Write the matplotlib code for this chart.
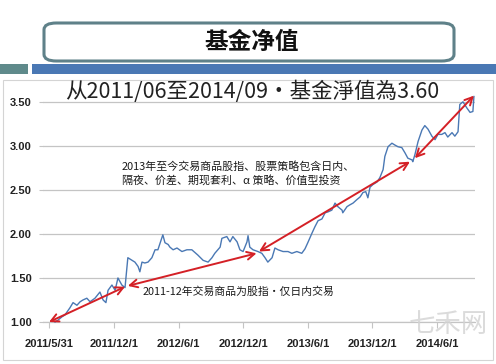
import matplotlib
matplotlib.use("Agg")
import matplotlib.pyplot as plt
from matplotlib.patches import FancyBboxPatch, Rectangle
import pandas as pd

plt.rcParams['font.family'] = ['Noto Sans CJK SC', 'DejaVu Sans']

# ---------------- data ----------------
dates = [
    "2011-06-17", "2011-06-25", "2011-07-07", "2011-07-15", "2011-07-29", "2011-08-07", "2011-08-18",
    "2011-08-27", "2011-09-04", "2011-09-15", "2011-09-24", "2011-10-08", "2011-10-22",
    "2011-10-31", "2011-11-08", "2011-11-14", "2011-11-25", "2011-12-04", "2011-12-12",
    "2011-12-23", "2012-01-01", "2012-01-09", "2012-01-21", "2012-01-29", "2012-02-07",
    "2012-02-12", "2012-02-18", "2012-02-26", "2012-03-06", "2012-03-17", "2012-03-26",
    "2012-04-03", "2012-04-17", "2012-04-23", "2012-05-02", "2012-05-07", "2012-05-16",
    "2012-05-27", "2012-06-10", "2012-06-24", "2012-07-08", "2012-07-25", "2012-08-09",
    "2012-08-23", "2012-09-03", "2012-09-11", "2012-09-26", "2012-10-01", "2012-10-15",
    "2012-10-24", "2012-11-01", "2012-11-13", "2012-11-21", "2012-11-30", "2012-12-11",
    "2012-12-14", "2012-12-19", "2012-12-28", "2013-01-11", "2013-01-22", "2013-01-31",
    "2013-02-08", "2013-02-20", "2013-02-28", "2013-03-09", "2013-03-23", "2013-04-06",
    "2013-04-17", "2013-05-01", "2013-05-15", "2013-05-24", "2013-06-01", "2013-06-13",
    "2013-06-21", "2013-06-30", "2013-07-11", "2013-07-20", "2013-07-28", "2013-08-08",
    "2013-08-17", "2013-08-25", "2013-09-06", "2013-09-08", "2013-09-20", "2013-09-28",
    "2013-10-07", "2013-10-18", "2013-10-27", "2013-11-04", "2013-11-12", "2013-11-18",
    "2013-11-24", "2013-12-02", "2013-12-14", "2013-12-22", "2013-12-31", "2014-01-05",
    "2014-01-14", "2014-01-25", "2014-02-02", "2014-02-11", "2014-02-22", "2014-03-03",
    "2014-03-11", "2014-03-23", "2014-03-25", "2014-03-31", "2014-04-09", "2014-04-20",
    "2014-04-28", "2014-05-07", "2014-05-18", "2014-05-27", "2014-06-04", "2014-06-15",
    "2014-06-24", "2014-07-02", "2014-07-14", "2014-07-22", "2014-07-31", "2014-08-05",
    "2014-08-14", "2014-08-25", "2014-09-03", "2014-09-11", "2014-09-14",
]
nav = [
    1.00, 1.02, 1.06, 1.08, 1.16, 1.22, 1.19,
    1.23, 1.25, 1.27, 1.23, 1.27, 1.34,
    1.25, 1.22, 1.36, 1.42, 1.36, 1.50,
    1.42, 1.39, 1.73, 1.70, 1.68, 1.63,
    1.57, 1.68, 1.67, 1.68, 1.73, 1.82,
    1.82, 1.99, 1.90, 1.88, 1.85, 1.82,
    1.84, 1.80, 1.82, 1.82, 1.76, 1.70,
    1.68, 1.73, 1.78, 1.85, 1.95, 1.97,
    1.91, 1.97, 1.91, 1.82, 1.80, 1.91,
    1.98, 1.85, 1.82, 1.80, 1.78, 1.73,
    1.68, 1.73, 1.84, 1.82, 1.80, 1.80,
    1.78, 1.80, 1.78, 1.83, 1.90, 2.01,
    2.08, 2.15, 2.17, 2.24, 2.25, 2.27,
    2.35, 2.31, 2.27, 2.24, 2.31, 2.33,
    2.35, 2.39, 2.42, 2.47, 2.48, 2.41,
    2.53, 2.56, 2.59, 2.64, 2.73, 2.88,
    2.99, 3.03, 3.01, 2.99, 2.98, 2.92,
    2.86, 2.84, 2.82, 2.90, 3.05, 3.18,
    3.23, 3.19, 3.11, 3.07, 3.13, 3.13,
    3.15, 3.10, 3.15, 3.11, 3.16, 3.47,
    3.50, 3.43, 3.38, 3.39, 3.56,
]

y_ticks = [1.00, 1.50, 2.00, 2.50, 3.00, 3.50]
x_tick_dates = ["2011-05-31", "2011-12-01", "2012-06-01", "2012-12-01",
                "2013-06-01", "2013-12-01", "2014-06-01"]
x_tick_labels = ["2011/5/31", "2011/12/1", "2012/6/1", "2012/12/1",
                 "2013/6/1", "2013/12/1", "2014/6/1"]

# double-headed trend arrows: (start date, start value, end date, end value)
arrow_start_dates = ["2011-05-31", "2012-01-09", "2013-01-14", "2014-03-31"]
arrow_start_vals = [1.00, 1.41, 1.80, 2.86]
arrow_end_dates = ["2012-01-01", "2013-01-07", "2014-03-17", "2014-09-14"]
arrow_end_vals = [1.40, 1.78, 2.82, 3.57]

title_text = "基金净值"
subtitle_text = "从2011/06至2014/09·基金淨值為3.60"
note1_lines = ["2013年至今交易商品股指、股票策略包含日内、",
               "隔夜、价差、期现套利、α 策略、价值型投资"]
note2_text = "2011-12年交易商品为股指・仅日内交易"

# ---------------- figure ----------------
W, H = 496, 364
fig = plt.figure(figsize=(W / 100, H / 100), dpi=100)
fig.patch.set_facecolor("white")

def fx(px):
    return px / W

def fy(py):
    return 1 - py / H

# slide frame
fig.patches.append(Rectangle((fx(3), fy(360)), fx(490), (360 - 80) / H,
                             transform=fig.transFigure, fill=False,
                             edgecolor="#d4d4d4", lw=0.8))

# title box
fig.patches.append(FancyBboxPatch((fx(44), fy(61)), fx(410), 38 / H,
                                  boxstyle="round,pad=0,rounding_size=0.025",
                                  transform=fig.transFigure, facecolor="white",
                                  edgecolor="#5f8189", lw=2.2, mutation_aspect=H / W))
fig.text(fx(252), fy(42), title_text, ha="center", va="center",
         fontsize=17, fontweight="bold", color="#111111")

# decorative bars
fig.patches.append(Rectangle((fx(0), fy(74)), fx(28), 10 / H,
                             transform=fig.transFigure, facecolor="#5f8a8b",
                             edgecolor="none"))
fig.patches.append(Rectangle((fx(32), fy(74)), fx(464), 10 / H,
                             transform=fig.transFigure, facecolor="#4a78b4",
                             edgecolor="none"))

# subtitle
fig.text(fx(252), fy(92), subtitle_text, ha="center", va="center",
         fontsize=15.5, color="#222222",
         family=["Noto Sans CJK TC", "DejaVu Sans"])

# ---------------- axes ----------------
ax = fig.add_axes([fx(43), fy(322), fx(432), (322 - 93) / H])
ax.set_facecolor("none")

d = pd.to_datetime(dates)
ax.plot(d, nav, color="#4a78b4", lw=1.0, clip_on=False, zorder=3)

ax.set_ylim(1.0, 3.6)
ax.set_xlim(pd.Timestamp("2011-05-14"), pd.Timestamp("2014-09-17"))

ax.set_yticks(y_ticks)
ax.set_yticklabels([f"{v:.2f}" for v in y_ticks])
ax.set_xticks(pd.to_datetime(x_tick_dates))
ax.set_xticklabels(x_tick_labels)

ax.grid(axis="y", color="#c4c4c4", lw=0.9)
ax.set_axisbelow(True)
for s in ["top", "right", "left"]:
    ax.spines[s].set_visible(False)
ax.spines["bottom"].set_color("#c4c4c4")
ax.spines["bottom"].set_linewidth(0.9)

ax.tick_params(axis="y", length=3, color="#c4c4c4", pad=5,
               labelsize=8, labelcolor="#222222")
ax.tick_params(axis="x", length=4, color="#c4c4c4", pad=8,
               labelsize=8, labelcolor="#222222")
for lab in ax.get_xticklabels() + ax.get_yticklabels():
    lab.set_fontweight("bold")
    lab.set_family(["Liberation Sans", "DejaVu Sans"])

# trend arrows
for sd, sv, ed, ev in zip(arrow_start_dates, arrow_start_vals,
                          arrow_end_dates, arrow_end_vals):
    ax.annotate("", xy=(pd.Timestamp(ed), ev), xytext=(pd.Timestamp(sd), sv),
                arrowprops=dict(arrowstyle="<->,head_length=0.55,head_width=0.28",
                                color="#d42026", lw=1.4, shrinkA=0, shrinkB=0),
                annotation_clip=False, zorder=4)

# notes
fig.text(fx(122), fy(166), note1_lines[0], ha="left", va="center",
         fontsize=7.9, color="#1a1a1a")
fig.text(fx(122), fy(181), note1_lines[1], ha="left", va="center",
         fontsize=7.9, color="#1a1a1a")
fig.text(fx(143), fy(292), note2_text, ha="left", va="center",
         fontsize=7.8, color="#1a1a1a")

# watermark
fig.text(fx(448), fy(324), "七禾网", ha="center", va="center",
         fontsize=19, color="#d2d2d2", alpha=0.8, zorder=0)

fig.savefig("out.png", dpi=100)
